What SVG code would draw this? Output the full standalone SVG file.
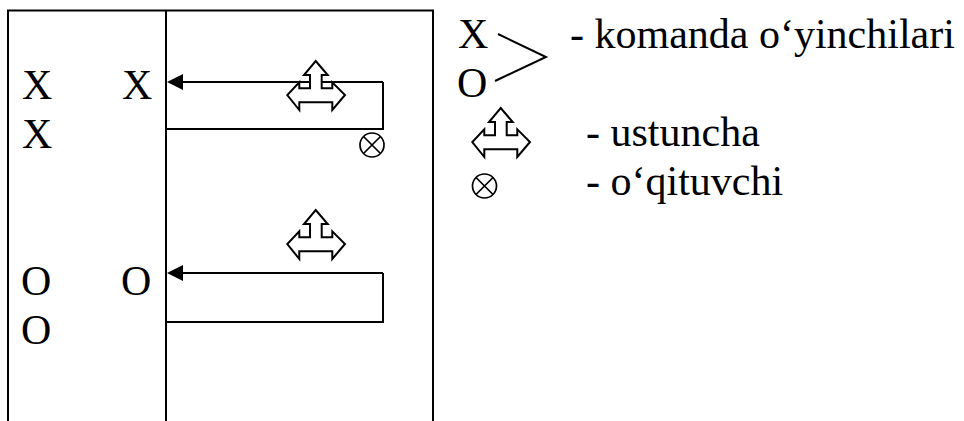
<svg xmlns="http://www.w3.org/2000/svg" width="964" height="421" viewBox="0 0 964 421">
<style>
text{font-family:"Liberation Serif","Times New Roman",serif;font-size:42px;fill:#000}
.l{fill:none;stroke:#000;stroke-width:2}
.g{fill:#fff;stroke:#000;stroke-width:2}
.t{fill:none;stroke:#000;stroke-width:1.700}
</style>
<defs>
<g id="ar"><path class="g" d="M0 0L12 14H6V27.300H16.600V21.300L29.300 34L16.600 49V41.300H-16.400V49L-28.400 34L-16.400 21.300V27.300H-5.700V14H-11.700Z"/></g>
<g id="t"><circle class="t" cx="0" cy="0" r="12"/><path class="t" d="M-8.500-8.500L8.500 8.500M8.500-8.500L-8.500 8.500"/></g>
</defs>
<g id="connectors">
<path class="l" d="M8 421V10.500H433V421M166 10.500V421"/>
<path class="l" d="M383 82H183M383 82V129H166"/>
<path d="M167 82L183 74V90Z" fill="#000"/>
<path class="l" d="M383 273H183M383 273V322H166"/>
<path d="M167 273L183 265V281Z" fill="#000"/>
<path class="l" d="M498 34L546 57L495 81"/>
</g>
<g id="team-x"><text x="22" y="99">X</text><text x="122" y="99">X</text><text x="22" y="148">X</text></g>
<g id="team-o"><text x="21" y="295">O</text><text x="121" y="295">O</text><text x="21" y="344">O</text></g>
<g id="post-1"><use href="#ar" x="315.700" y="61"/></g>
<g id="post-2"><use href="#ar" x="315.700" y="210"/></g>
<g id="teacher-1"><use href="#t" x="372" y="145"/></g>
<g id="legend">
<text x="458" y="48">X</text><text x="457" y="97">O</text>
<text x="570" y="48">- komanda o‘yinchilari</text>
<use href="#ar" x="500.700" y="108"/>
<text x="586" y="146">- ustuncha</text>
<use href="#t" x="484.500" y="186"/>
<text x="586" y="195">- o‘qituvchi</text>
</g>
</svg>
